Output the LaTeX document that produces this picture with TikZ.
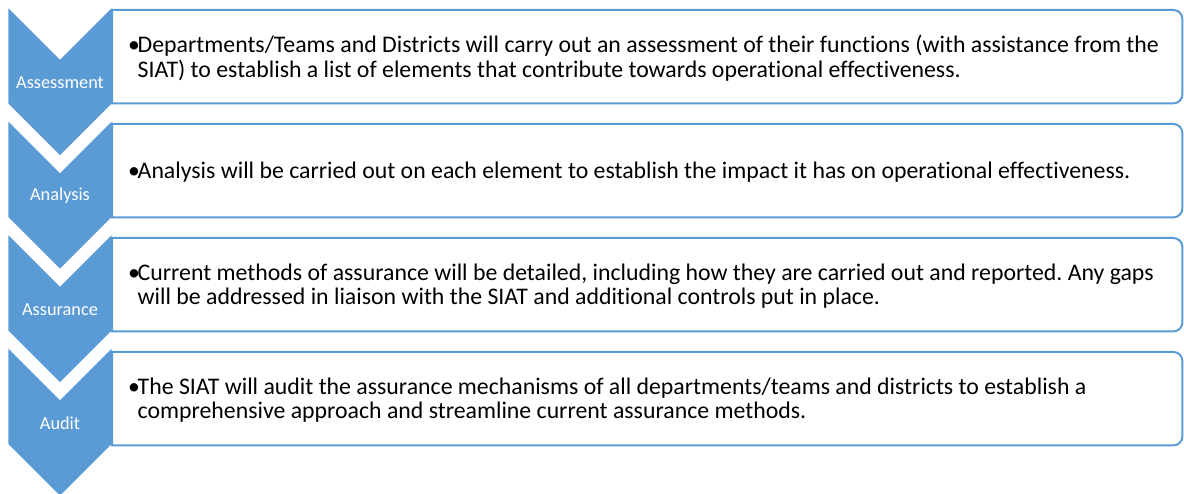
\documentclass[tikz,border=0pt]{standalone}
\usepackage{fontspec}
\setmainfont{Carlito}[Ligatures={NoCommon}]
\frenchspacing
\definecolor{accent}{HTML}{5B9BD5}
\definecolor{bodytext}{HTML}{000000}
\begin{document}
\begin{tikzpicture}[x=1pt,y=1pt,
  chev/.style={fill=accent,draw=white,line width=0.8pt},
  chevlabel/.style={text=white,font=\fontsize{18.3}{21}\selectfont,inner sep=0pt},
  boxarea/.style={minimum width=1070pt,minimum height=93pt,inner sep=0pt,anchor=north west},
  boxline/.style={draw=accent,line width=2pt},
  bodytxt/.style={text=bodytext,align=left,anchor=west,inner sep=0pt,
    font=\fontsize{23.8}{24.5}\selectfont}]
\useasboundingbox (0,0) rectangle (1184,494);

% four downward chevrons, 113.5pt apart
\foreach \t/\name/\lab in {487/c1/Assessment,373.5/c2/Analysis,260/c3/Assurance,146.5/c4/Audit}{
  \draw[chev] (8,\t) -- (60,\t-52) -- (112,\t) -- (112,\t-97) -- (60,\t-149) -- (8,\t-97) -- cycle;
  \node[chevlabel] (\name) at (60,\t-75.5) {\lab};
}

% text panels with rounded right-hand corners
\newcommand{\panel}[1]{%
  \draw[boxline] (#1.north west) -- ([xshift=-9pt]#1.north east)
    arc[start angle=90,end angle=0,radius=9pt]
    -- ([yshift=9pt]#1.south east)
    arc[start angle=0,end angle=-90,radius=9pt]
    -- (#1.south west) -- cycle;}
\newcommand{\bul}{\makebox[9.5pt][l]{•}}
\newcommand{\ind}{\hspace*{9.5pt}}

\node[boxarea] (b1) at (112,484) {};
\node[boxarea] (b2) at (112,370) {};
\node[boxarea] (b3) at (112,256) {};
\node[boxarea] (b4) at (112,142) {};
\panel{b1}\panel{b2}\panel{b3}\panel{b4}

\node[bodytxt] (t1) at ([xshift=16pt,yshift=-1.5pt]b1.west)
  {\bul Departments/Teams and Districts will carry out an assessment of their functions (with assistance from the\\
   \ind SIAT) to establish a list of elements that contribute towards operational effectiveness.};
\node[bodytxt] (t2) at ([xshift=16pt,yshift=-1.5pt]b2.west)
  {\bul Analysis will be carried out on each element to establish the impact it has on operational effectiveness.};
\node[bodytxt] (t3) at ([xshift=16pt,yshift=-1.5pt]b3.west)
  {\bul Current methods of assurance will be detailed, including how they are carried out and reported. Any gaps\\
   \ind will be addressed in liaison with the SIAT and additional controls put in place.};
\node[bodytxt] (t4) at ([xshift=16pt,yshift=-1.5pt]b4.west)
  {\bul The SIAT will audit the assurance mechanisms of all departments/teams and districts to establish a\\
   \ind comprehensive approach and streamline current assurance methods.};
\end{tikzpicture}
\end{document}
